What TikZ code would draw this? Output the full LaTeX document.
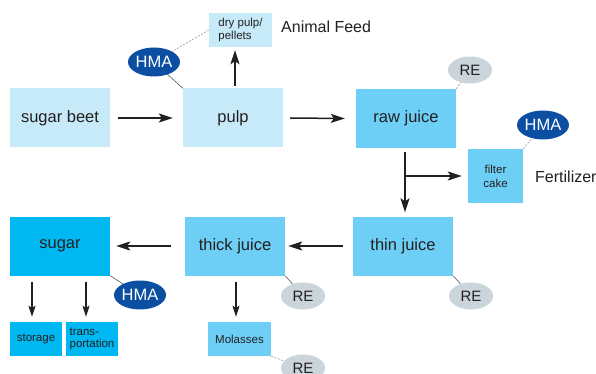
\documentclass[tikz,border=0pt]{standalone}
\usepackage{fontspec}
\setmainfont{Liberation Sans}
\usetikzlibrary{arrows.meta,shapes.geometric}
\definecolor{lb}{HTML}{C7EAF9}
\definecolor{mb}{HTML}{6DCFF6}
\definecolor{db}{HTML}{00B8F1}
\definecolor{hma}{HTML}{0B4EA2}
\definecolor{reg}{HTML}{C9D4DB}
\definecolor{txt}{HTML}{231F20}
\begin{document}
\begin{tikzpicture}[x=1pt,y=-1pt,
 box/.style={rectangle, inner sep=0pt, text=txt, font=\fontsize{16.5}{18}\selectfont},
 big/.style={box, minimum width=100pt, minimum height=59pt},
 small/.style={box, font=\fontsize{11.5}{12.5}\selectfont, align=left},
 hmae/.style={ellipse, fill=hma, text=white, minimum width=52pt, minimum height=29pt, inner sep=0pt, font=\fontsize{16.5}{17}\selectfont},
 ree/.style={ellipse, fill=reg, text=txt, minimum width=44pt, minimum height=27pt, inner sep=0pt, font=\fontsize{15}{16}\selectfont},
 lbl/.style={text=txt, inner sep=0pt, anchor=west, font=\fontsize{16}{17}\selectfont},
 flow/.style={-{Stealth[length=14pt,width=9pt,inset=3pt]}, line width=1.5pt, draw=txt},
 tie/.style={draw=gray!70!black, line width=0.6pt},
 dtie/.style={tie, draw=gray!80, dash pattern=on 2pt off 1.5pt},
]
\useasboundingbox (0,0) rectangle (596,374);
% main boxes
\node[big, fill=lb] (beet) at (60,118) {sugar beet};
\node[big, fill=lb] (pulp) at (233,118) {pulp};
\node[big, fill=mb] (raw) at (406,118.5) {raw juice};
\node[big, fill=mb] (thin) at (403,246) {thin juice};
\node[big, fill=mb] (thick) at (235,246) {thick juice};
\node[big, fill=db] (sugar) at (60,246) {sugar};
% small boxes
\node[small, fill=lb, minimum width=63pt, minimum height=34pt] (dry) at (240.5,30) {dry pulp/\\pellets};
\node[small, fill=mb, minimum width=55pt, minimum height=54pt, align=center, font=\fontsize{11.5}{14}\selectfont] (filter) at (495.5,176) {filter\\cake};
\node[small, fill=mb, minimum width=63pt, minimum height=34pt] (mol) at (239.5,339) {Molasses};
\node[small, fill=db, minimum width=52pt, minimum height=34pt] (stor) at (36,339) {storage};
\node[small, fill=db, minimum width=52pt, minimum height=34pt] (trans) at (92,339) {trans-\\portation};
% labels
\node[lbl] (feed) at (281,27) {Animal Feed};
\node[lbl] (fert) at (535,177) {Fertilizer};
% ties
\draw[tie] (pulp.north west) -- (154,62) coordinate (h1c);
\draw[dtie] (dry.west) -- (h1c);
\draw[dtie] (raw.north east) -- (470,70) coordinate (r1c);
\draw[dtie] (filter.north east) -- (543,125) coordinate (h2c);
\draw[tie] (thin.south east) -- (471,296) coordinate (r2c);
\draw[tie] (thick.south east) -- (303,296) coordinate (r3c);
\draw[tie] (sugar.south east) -- (140,295) coordinate (h3c);
\draw[dtie] (mol.south east) -- (303,368) coordinate (r4c);
% ellipses
\node[hmae] (hma1) at (h1c) {HMA};
\node[ree] (re1) at (r1c) {RE};
\node[hmae] (hma2) at (h2c) {HMA};
\node[ree] (re2) at (r2c) {RE};
\node[ree] (re3) at (r3c) {RE};
\node[hmae] (hma3) at (h3c) {HMA};
\node[ree] (re4) at (r4c) {RE};
% flow arrows
\draw[flow] ([xshift=8pt]beet.east) -- ([xshift=-10pt]pulp.west);
\draw[flow] ([xshift=7pt]pulp.east) -- ([xshift=-11pt]raw.west);
\draw[flow] ([xshift=2pt,yshift=2pt]pulp.north) -- ([xshift=2pt,yshift=-3pt]pulp.north |- dry.south);
\draw[flow] ([xshift=-1pt,yshift=-4pt]raw.south) -- ([xshift=-1pt,yshift=4pt]raw.south |- thin.north);
\coordinate (br) at ([xshift=-1pt]raw.south |- filter.west);
\draw[flow] (br) -- ([xshift=-6pt]filter.west);
\draw[flow] ([xshift=-10pt]thin.west) -- ([xshift=3pt]thick.east);
\draw[flow] ([xshift=-14pt]thick.west) -- ([xshift=6pt]sugar.east);
\draw[flow, line width=1.1pt, -{Stealth[length=11pt,width=7pt,inset=2pt]}] ([xshift=1pt,yshift=-6pt]thick.south) -- ([xshift=1pt,yshift=5pt]thick.south |- mol.north);
\draw[flow, line width=1.1pt, -{Stealth[length=11pt,width=7pt,inset=2pt]}] ([xshift=-4pt,yshift=-6pt]stor.north |- sugar.south) -- ([xshift=-4pt,yshift=5pt]stor.north);
\draw[flow, line width=1.1pt, -{Stealth[length=11pt,width=7pt,inset=2pt]}] ([xshift=-6pt,yshift=-6pt]trans.north |- sugar.south) -- ([xshift=-6pt,yshift=5pt]trans.north);
\end{tikzpicture}
\end{document}
